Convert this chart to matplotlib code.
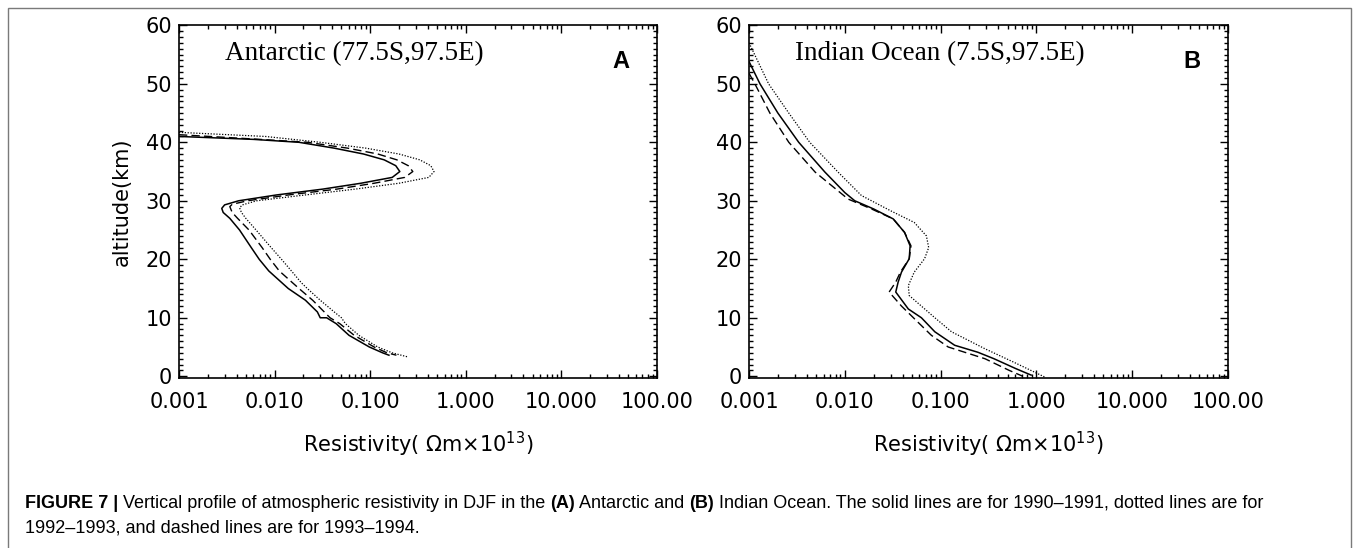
import numpy as np
import matplotlib
matplotlib.use("Agg")
import matplotlib.pyplot as plt
from matplotlib.patches import Rectangle
from matplotlib.ticker import MultipleLocator, LogLocator, NullFormatter

# ---- data (resistivity in Ohm m x 1e13, altitude in km) ----
# panel A: Antarctic
a_solid_alt = [41.0, 40.5, 40, 39, 38, 37, 36, 35, 34, 33, 32, 31, 30, 29.3, 28.7, 28, 27, 25, 22, 20,
               18, 15, 13, 11, 10, 10, 9, 7, 5, 4, 3.6]
a_solid_res = [0.001, 0.006, 0.018, 0.042, 0.085, 0.14, 0.185, 0.204, 0.17, 0.08, 0.032, 0.0105, 0.0042,
               0.003, 0.0028, 0.0029, 0.0034, 0.0043, 0.0057, 0.0069, 0.0087, 0.0139, 0.021, 0.028,
               0.030, 0.035, 0.044, 0.060, 0.098, 0.135, 0.157]
a_dot_alt = [41.7, 41, 40, 39, 38, 37, 36, 35, 34, 33, 32, 31, 30, 29.3, 28.8, 28, 27, 25, 22, 20,
             18, 16, 15, 13, 11, 10, 9, 7, 5, 4, 3.3]
a_dot_res = [0.001, 0.008, 0.03, 0.09, 0.2, 0.33, 0.43, 0.465, 0.41, 0.2, 0.07, 0.021, 0.0065,
             0.0046, 0.0043, 0.0045, 0.005, 0.0064, 0.0092, 0.0118, 0.015, 0.019, 0.022, 0.03,
             0.042, 0.05, 0.055, 0.076, 0.12, 0.17, 0.248]
a_dash_alt = [41.3, 40.5, 40, 39, 38, 37, 36, 35, 34, 33, 32, 31, 30, 29.4, 29.0, 28, 27, 25, 22, 20,
              18, 15, 13, 10, 9, 7, 5, 4, 3.6]
a_dash_res = [0.001, 0.007, 0.022, 0.058, 0.12, 0.19, 0.25, 0.279, 0.23, 0.11, 0.045, 0.014, 0.0052,
              0.0036, 0.0034, 0.0036, 0.0041, 0.0054, 0.0074, 0.009, 0.0112, 0.018, 0.025, 0.038,
              0.048, 0.068, 0.11, 0.15, 0.188]

# panel B: Indian Ocean
b_solid_alt = [53.8, 50, 45, 40, 34.9, 31.4, 30, 28.6, 26.9, 24.6, 22.3, 20.1, 17.8, 16.1, 14.4,
               11.5, 10, 7.6, 5.3, 4.1, 3.0, 1.3, 0.2]
b_solid_res = [0.001, 0.0013, 0.0020, 0.0033, 0.0062, 0.0100, 0.0127, 0.020, 0.032, 0.042, 0.048,
               0.047, 0.039, 0.036, 0.034, 0.046, 0.063, 0.087, 0.14, 0.245, 0.36, 0.61, 0.88]
b_dot_alt = [57.0, 50, 45, 40, 34.9, 30.9, 28.3, 26.3, 24.0, 22.0, 20.1, 17.8, 15.5, 13.8,
             10, 7.6, 4.7, 2.4, -0.1]
b_dot_res = [0.001, 0.0016, 0.0026, 0.0043, 0.0085, 0.0149, 0.030, 0.053, 0.071, 0.075,
             0.068, 0.053, 0.046, 0.047, 0.087, 0.13, 0.29, 0.58, 1.21]
b_dash_alt = [51.8, 50, 45, 40, 34.9, 30.3, 28.6, 26.9, 24.6, 22.3, 20.1, 17.8, 16.1, 14.4, 12, 10,
              7, 5, 3, 1, 0]
b_dash_res = [0.001, 0.00115, 0.00165, 0.0026, 0.0049, 0.0108, 0.019, 0.032, 0.042, 0.049, 0.047,
              0.038, 0.034, 0.029, 0.039, 0.052, 0.08, 0.12, 0.29, 0.52, 0.72]

xtick_vals = [0.001, 0.01, 0.1, 1, 10, 100]
xtick_labels = ["0.001", "0.010", "0.100", "1.000", "10.000", "100.00"]
ytick_vals = [0, 10, 20, 30, 40, 50, 60]

titles = ["Antarctic (77.5S,97.5E)", "Indian Ocean (7.5S,97.5E)"]
letters = ["A", "B"]

fig = plt.figure(figsize=(13.55, 5.48), dpi=100)
fig.patch.set_facecolor("white")

# outer grey frame
fig.patches.append(Rectangle((0.0059, -0.05), 0.9915, 0.9854 + 0.05, transform=fig.transFigure,
                             fill=False, ec="#7a7a7a", lw=1.0))

axA = fig.add_axes([0.1321, 0.3102, 0.3528, 0.6436])
axB = fig.add_axes([0.5528, 0.3102, 0.3535, 0.6436])

panels = [
    (axA, [(a_solid_res, a_solid_alt, "-"), (a_dot_res, a_dot_alt, "dot"), (a_dash_res, a_dash_alt, "dash")]),
    (axB, [(b_solid_res, b_solid_alt, "-"), (b_dot_res, b_dot_alt, "dot"), (b_dash_res, b_dash_alt, "dash")]),
]

for i, (ax, lines) in enumerate(panels):
    for xs, ys, st in lines:
        if st == "-":
            ax.plot(xs, ys, color="black", lw=1.1)
        elif st == "dot":
            ax.plot(xs, ys, color="black", lw=0.9, linestyle=(0, (1, 1.3)))
        else:
            ax.plot(xs, ys, color="black", lw=1.0, linestyle=(0, (6, 3)))
    ax.set_xscale("log")
    ax.set_xlim(0.001, 100)
    ax.set_ylim(-0.3, 60)
    ax.set_xticks(xtick_vals)
    ax.set_xticklabels(xtick_labels)
    ax.xaxis.set_minor_locator(LogLocator(base=10, subs=np.arange(2, 10)))
    ax.xaxis.set_minor_formatter(NullFormatter())
    ax.set_yticks(ytick_vals)
    ax.yaxis.set_minor_locator(MultipleLocator(1))
    ax.tick_params(which="both", direction="in", top=True, right=True, width=1.0)
    ax.tick_params(which="major", length=6, labelsize=15)
    ax.tick_params(which="minor", length=3.2)
    ax.tick_params(axis="x", which="major", pad=10)
    ax.tick_params(axis="y", which="major", pad=5)
    for sp in ax.spines.values():
        sp.set_linewidth(1.2)
    ax.set_xlabel(r"Resistivity( $\mathregular{\Omega}$m×10$^{13}$)", fontsize=15, labelpad=13)
    ax.text(0.096, 0.921, titles[i], transform=ax.transAxes, family="Liberation Serif",
            fontsize=19.5, va="center", ha="left")
    ax.text(0.925, 0.896, letters[i], transform=ax.transAxes, family="Liberation Sans",
            fontsize=17, fontweight="bold", va="center", ha="center")

axA.set_ylabel("altitude(km)", fontsize=15, labelpad=10)

# caption with mixed bold / regular runs
def put_runs(x, y, runs, size=13):
    renderer = fig.canvas.get_renderer()
    for txt, weight in runs:
        t = fig.text(x, y, txt, fontsize=size, fontweight=weight, family="Liberation Sans",
                     va="center", ha="left")
        bb = t.get_window_extent(renderer)
        x += bb.width / fig.bbox.width

put_runs(0.0185, 0.082, [
    ("FIGURE 7 |", "bold"),
    (" Vertical profile of atmospheric resistivity in DJF in the ", "normal"),
    ("(A)", "bold"),
    (" Antarctic and ", "normal"),
    ("(B)", "bold"),
    (" Indian Ocean. The solid lines are for 1990\u20131991, dotted lines are for", "normal"),
])
put_runs(0.0185, 0.0365, [
    ("1992\u20131993, and dashed lines are for 1993\u20131994.", "normal"),
])

fig.savefig("out.png", dpi=100)
